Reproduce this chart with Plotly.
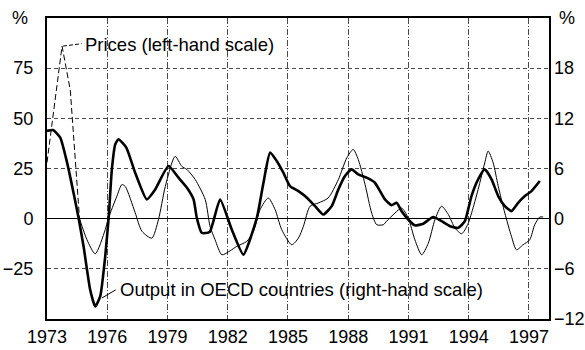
import plotly.graph_objects as go

# Prices, per cent (left-hand scale)
price_years = [1973.0, 1973.75, 1974.16, 1974.62, 1974.99, 1975.4, 1975.9, 1976.05, 1976.48,
               1976.73, 1976.9, 1977.39, 1977.73, 1978.22, 1978.55, 1978.89, 1979.38, 1979.72,
               1979.97, 1980.38, 1980.88, 1981.12, 1981.37, 1981.71, 1982.12, 1982.45, 1982.95,
               1983.28, 1983.61, 1984.02, 1984.36, 1984.69, 1985.19, 1985.52, 1985.77, 1986.1,
               1986.51, 1987.0, 1987.51, 1987.93, 1988.25, 1988.5, 1988.84, 1989.17, 1989.42,
               1989.75, 1989.91, 1990.33, 1990.66, 1990.99, 1991.32, 1991.66, 1991.99, 1992.32,
               1992.65, 1992.99, 1993.32, 1993.65, 1993.95, 1994.15, 1994.47, 1994.8, 1994.97,
               1995.22, 1995.47, 1995.8, 1996.13, 1996.38, 1996.71, 1997.04, 1997.29, 1997.54,
               1997.71]
price_values = [28, 86, 64, 0, -10.5, -17.5, -5.5, 0, 11.2,
                17, 16, 3, -6.3, -9.7, -0.5, 16, 31, 26,
                24.5, 19.5, 9.5, -3.8, -10.5, -18, -16, -13.8, -11.3,
                -6.3, 4.5, 10.3, 4.5, -5.5, -13, -9.7, -3.8, 6.2,
                7.8, 10.3, 19.5, 30.3, 34.5, 29.5, 17, 2.8, -3,
                -3, -1.3, 2.8, 5.3, 0.3, -10.5, -18, -12.2, -0.5,
                6.2, 2, -4.7, -7.5, -3, 3, 14.5, 27.8, 33.7,
                27.8, 16.2, 2.8, -8.8, -15.5, -13, -10.5, -3, 0.8,
                0.8]
# the 1973-74 spike is drawn dashed up to this point
price_dash_end = 3

# Output in OECD countries, per cent (right-hand scale)
output_years = [1973.0, 1973.3, 1973.66, 1974.0, 1974.32, 1974.57, 1974.82, 1975.15, 1975.4,
                1975.65, 1975.9, 1976.07, 1976.23, 1976.4, 1976.56, 1976.95, 1977.39, 1977.97,
                1978.39, 1979.05, 1979.55, 1979.97, 1980.3, 1980.46, 1980.71, 1981.1, 1981.62,
                1982.2, 1982.78, 1983.45, 1983.78, 1984.11, 1984.44, 1984.77, 1985.1, 1985.52,
                1985.85, 1986.35, 1986.76, 1987.18, 1987.51, 1987.84, 1988.17, 1988.5, 1988.92,
                1989.33, 1989.83, 1990.16, 1990.41, 1990.66, 1990.99, 1991.32, 1991.74, 1992.23,
                1992.65, 1993.07, 1993.48, 1993.81, 1994.14, 1994.47, 1994.8, 1995.14, 1995.47,
                1995.8, 1996.13, 1996.46, 1996.8, 1997.13, 1997.54]
output_values = [10.5, 10.6, 9.7, 6.7, 3.1, 0.1, -3.3, -8.5, -10.5,
                 -9.3, -4.5, 0.1, 5.9, 8.9, 9.5, 8.5, 5.5, 2.3,
                 3.5, 6.3, 4.9, 3.7, 2.3, 0.1, -1.7, -1.6, 2.3,
                 -1.3, -4.3, 0.1, 4.3, 7.9, 6.9, 5.5, 3.9, 3.3,
                 2.7, 1.5, 0.5, 1.5, 3.5, 5.1, 5.9, 5.3, 4.9,
                 4.3, 2.3, 1.6, 1.9, 0.9, -0.1, -0.8, -0.6, 0.2,
                 -0.3, -0.9, -1.1, -0.3, 2.7, 4.7, 5.9, 4.7, 2.7,
                 1.5, 0.9, 1.9, 2.7, 3.3, 4.5]

year_ticks = [1973, 1976, 1979, 1982, 1985, 1988, 1991, 1994, 1997]
left_ticks = [-25, 0, 25, 50, 75]
right_ticks = [-12, -6, 0, 6, 12, 18]

FONT = "Liberation Sans, Arial, Helvetica, sans-serif"
GRID = "#4a4a4a"

fig = go.Figure()

fig.add_trace(go.Scatter(
    x=price_years[:price_dash_end + 1], y=price_values[:price_dash_end + 1],
    mode="lines", line=dict(color="black", width=1, dash="6px,3px"),
    showlegend=False, hoverinfo="skip"))
fig.add_trace(go.Scatter(
    x=price_years[price_dash_end:], y=price_values[price_dash_end:],
    mode="lines", line=dict(color="black", width=1, shape="spline", smoothing=0.7),
    showlegend=False))
fig.add_trace(go.Scatter(
    x=output_years, y=output_values, yaxis="y2",
    mode="lines", line=dict(color="black", width=2.6, shape="spline", smoothing=0.5),
    showlegend=False))

# label leaders
fig.add_shape(type="line", xref="x", yref="y", x0=1973.8, y0=86, x1=1974.72, y1=87.2,
              line=dict(color="black", width=1, dash="4px,2px"))
fig.add_shape(type="line", xref="x", yref="y", x0=1975.74, y0=-39.5, x1=1976.42, y1=-35.5,
              line=dict(color="black", width=1))

fig.add_annotation(x=1974.8, y=87, xref="x", yref="y", text="Prices (left-hand scale)",
                   showarrow=False, xanchor="left", yanchor="middle",
                   font=dict(family=FONT, size=18.5, color="black"))
fig.add_annotation(x=1976.55, y=-35.5, xref="x", yref="y",
                   text="Output in OECD countries (right-hand scale)",
                   showarrow=False, xanchor="left", yanchor="middle",
                   font=dict(family=FONT, size=18.5, color="black"))
fig.add_annotation(x=-0.073, y=1.0, xref="paper", yref="paper", text="%",
                   showarrow=False, xanchor="left", yanchor="middle",
                   font=dict(family=FONT, size=18, color="black"))
fig.add_annotation(x=1.016, y=1.0, xref="paper", yref="paper", text="%",
                   showarrow=False, xanchor="left", yanchor="middle",
                   font=dict(family=FONT, size=18, color="black"))

fig.update_layout(
    width=585, height=350,
    margin=dict(l=47, r=36, t=18, b=31),
    paper_bgcolor="white", plot_bgcolor="white",
    font=dict(family=FONT, size=18, color="black"),
    xaxis=dict(range=[1973, 1998], tickvals=year_ticks, ticktext=[str(y) for y in year_ticks],
               showgrid=True, gridcolor=GRID, gridwidth=1, griddash="6px,2px,1px,2px",
               showline=True, linecolor="black", linewidth=2, mirror=True,
               ticks="", zeroline=False, automargin=False,
               tickfont=dict(size=18)),
    yaxis=dict(range=[-50, 100], tickvals=left_ticks, ticktext=["\u221225", "0", "25", "50", "75"],
               showgrid=True, gridcolor=GRID, gridwidth=1, griddash="4px,3px",
               zeroline=True, zerolinecolor="black", zerolinewidth=1.3,
               showline=True, linecolor="black", linewidth=2, mirror=True,
               ticks="", automargin=False, ticklabelstandoff=8, tickfont=dict(size=18)),
    yaxis2=dict(range=[-12, 24], overlaying="y", side="right", tickvals=right_ticks,
                ticktext=["\u221212", "\u22126", "0", "6", "12", "18"],
                showgrid=False, zeroline=False, showline=False, automargin=False,
                ticks="", ticklabelstandoff=4, tickfont=dict(size=18)),
)

fig.write_html("out.html")
